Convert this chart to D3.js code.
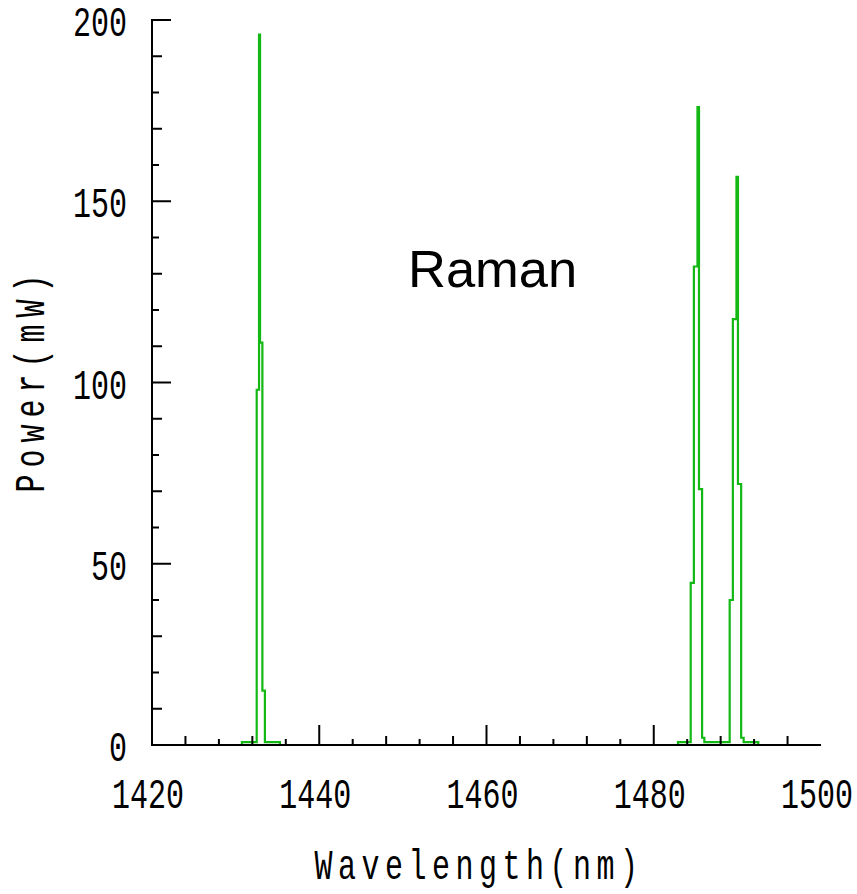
<!DOCTYPE html>
<html>
<head>
<meta charset="utf-8">
<script src="https://cdn.jsdelivr.net/npm/d3@7"></script>
<style>
  html, body { margin: 0; padding: 0; background: #fff; }
  svg { display: block; }
</style>
</head>
<body>
<svg id="chart" width="857" height="894"></svg>
<script>
// ---- data ----
const wavelength = [1420, 1430.75, 1432.52, 1432.80, 1432.92, 1433.20, 1433.50, 1435.30,
                    1482.90, 1484.42, 1484.80, 1485.23, 1485.41, 1485.78, 1486.05,
                    1489.08, 1489.46, 1489.89, 1490.07, 1490.45, 1490.75, 1492.50, 1500];
const power      = [0, 0.8, 98, 196, 111, 15, 0.8, 0,
                    0.8, 44.7, 132, 176, 70.6, 2, 0.8,
                    40, 117.5, 156.7, 72, 2, 0.8, 0, 0];
const xTickLabels = [1420, 1440, 1460, 1480, 1500];
const yTickLabels = [0, 50, 100, 150, 200];
const xTitle = "Wavelength(nm)";
const yTitle = "Power(mW)";
const annotation = "Raman";

// ---- layout ----
const svg = d3.select("#chart");
const x = d3.scaleLinear().domain([1420, 1500]).range([152, 821]);
const y = d3.scaleLinear().domain([0, 200]).range([745, 20]);
const monoFont = "'Liberation Mono', 'Courier New', monospace";
const sy = 1.4;

// spectrum
const pts = wavelength.map((w, i) => [w, power[i]]);
const line = d3.line().x(d => x(d[0])).y(d => y(d[1])).curve(d3.curveStepAfter);
svg.append("path")
  .attr("d", line(pts))
  .attr("fill", "none")
  .attr("stroke", "#14b814")
  .attr("stroke-width", 2.2)
  .attr("stroke-linejoin", "miter");

// axes lines
svg.append("line").attr("x1", x(1420)).attr("x2", x(1420)).attr("y1", y(200) - 1).attr("y2", y(0) + 1)
  .attr("stroke", "#000").attr("stroke-width", 2);
svg.append("line").attr("x1", x(1420) - 1).attr("x2", x(1500)).attr("y1", y(0)).attr("y2", y(0))
  .attr("stroke", "#000").attr("stroke-width", 2);

// y ticks (inside, pointing right)
const yTicks = d3.range(10, 201, 10);
svg.append("g").selectAll("line").data(yTicks).join("line")
  .attr("x1", x(1420))
  .attr("x2", d => x(1420) + (d % 50 === 0 ? 19 : (d % 20 === 10 ? 10 : 7)))
  .attr("y1", d => y(d)).attr("y2", d => y(d))
  .attr("stroke", "#000").attr("stroke-width", 2);

// x ticks (inside, pointing up) - last one omitted as in reference
const xTicks = d3.range(1424, 1500, 4);
svg.append("g").selectAll("line").data(xTicks).join("line")
  .attr("x1", d => x(d)).attr("x2", d => x(d))
  .attr("y1", y(0))
  .attr("y2", d => y(0) - ((d - 1420) % 20 === 0 ? 20 : ((d - 1420) % 8 === 4 ? 9 : 6)))
  .attr("stroke", "#000").attr("stroke-width", 2);

// y tick labels
svg.append("g").selectAll("text").data(yTickLabels).join("text")
  .attr("transform", d => `translate(127,${y(d) + 16}) scale(1,${sy})`)
  .attr("text-anchor", "end")
  .attr("font-family", monoFont).attr("font-size", 30)
  .attr("fill", "#000")
  .text(d => d);

// x tick labels
svg.append("g").selectAll("text").data(xTickLabels).join("text")
  .attr("transform", d => `translate(${x(d) - 4},808) scale(1,${sy})`)
  .attr("text-anchor", "middle")
  .attr("font-family", monoFont).attr("font-size", 30)
  .attr("fill", "#000")
  .text(d => d);

// axis titles
svg.append("text")
  .attr("transform", `translate(479,879) scale(1,${sy})`)
  .attr("text-anchor", "middle")
  .attr("font-family", monoFont).attr("font-size", 30)
  .attr("letter-spacing", 5.5)
  .attr("fill", "#000")
  .text(xTitle);

svg.append("text")
  .attr("transform", `translate(44,380) rotate(-90) scale(1,${sy})`)
  .attr("text-anchor", "middle")
  .attr("font-family", monoFont).attr("font-size", 30)
  .attr("letter-spacing", 7)
  .attr("fill", "#000")
  .text(yTitle);

// annotation
svg.append("text")
  .attr("x", 408).attr("y", 287)
  .attr("font-family", "'Liberation Sans', Arial, sans-serif")
  .attr("font-size", 52.5)
  .attr("fill", "#000")
  .text(annotation);
</script>
</body>
</html>
